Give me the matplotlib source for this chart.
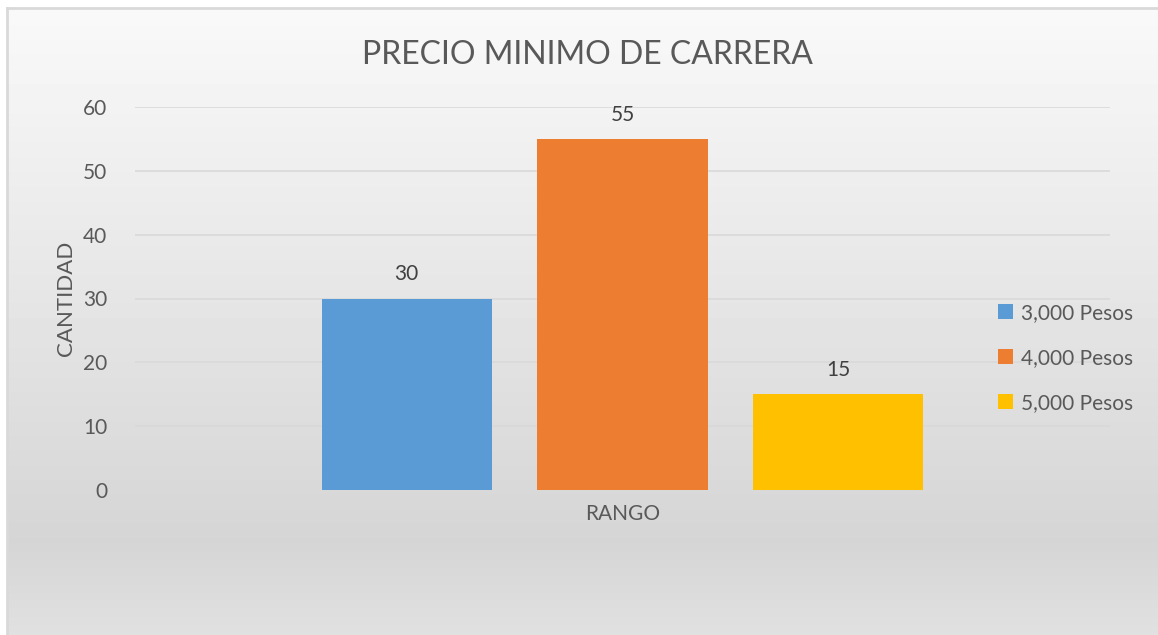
import numpy as np
import matplotlib
matplotlib.use('Agg')
import matplotlib.pyplot as plt

# Chart data
category = "RANGO"
series_names = ["3,000 Pesos", "4,000 Pesos", "5,000 Pesos"]
values = [30, 55, 15]
colors = ["#5b9bd5", "#ed7d31", "#ffc000"]

plt.rcParams['font.family'] = ['Lato', 'DejaVu Sans']
text_color = "#595959"

fig = plt.figure(figsize=(11.58, 6.35), dpi=100)

# Gradient background (light gray, darkening downwards)
bg = fig.add_axes([0, 0, 1, 1], zorder=-10)
rows = np.arange(635)
shade = np.interp(rows, [8, 540, 635], [0.975, 0.835, 0.88])
img = np.repeat(shade[:, None], 4, axis=1)
bg.imshow(img, cmap='gray', vmin=0, vmax=1, aspect='auto',
          extent=[7, 1158, 635, 8], interpolation='nearest')
bg.plot([7, 7], [8, 635], color="#d9d9d9", lw=2)
bg.plot([7, 1158], [8, 8], color="#d9d9d9", lw=2)
bg.set_xlim(0, 1158)
bg.set_ylim(635, 0)
bg.axis('off')

ax = fig.add_axes([135 / 1158, 1 - 490 / 635, 975 / 1158, 383 / 635])
ax.set_facecolor('none')

width = 0.1744
offsets = [-0.2215, 0.0, 0.2215]
for name, val, col, off in zip(series_names, values, colors, offsets):
    ax.bar(off, val, width=width, color=col, label=name, zorder=3)
    ax.text(off, val + 2.2, str(val), ha='center', va='bottom',
            fontsize=15, color="#404040")

ax.set_xlim(-0.5, 0.5)
ax.set_ylim(0, 60)
ax.set_yticks(range(0, 61, 10))
ax.set_xticks([0])
ax.set_xticklabels([category])
ax.grid(axis='y', color="#d9d9d9", lw=1.2, zorder=0)
for s in ax.spines.values():
    s.set_visible(False)
ax.tick_params(axis='both', length=0, labelsize=15, labelcolor=text_color)
ax.tick_params(axis='y', pad=20)
ax.tick_params(axis='x', pad=10)

ax.set_ylabel("CANTIDAD", fontsize=16, color=text_color, labelpad=5)
fig.text(587 / 1158, 1 - 55 / 635, "PRECIO MINIMO DE CARRERA",
         ha='center', va='center', fontsize=23, color=text_color)

ax.legend(loc='center left', bbox_to_anchor=(0.866, 0.345),
          frameon=False, fontsize=15, labelcolor=text_color,
          handlelength=0.7, handleheight=0.7, handletextpad=0.4,
          labelspacing=1.2)

fig.savefig("out.png", dpi=100)
